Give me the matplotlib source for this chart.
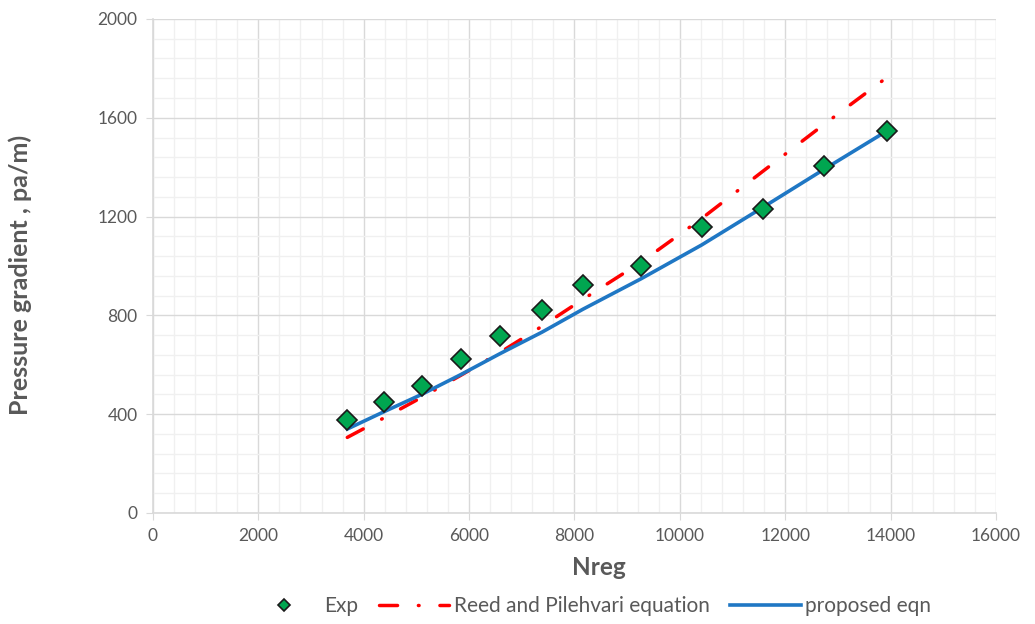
import matplotlib.pyplot as plt
from matplotlib.ticker import MultipleLocator

plt.rcParams['font.family'] = ['Lato', 'DejaVu Sans']

# Data
nreg = [3688, 4384, 5099, 5840, 6586, 7383, 8161, 9262, 10413, 11573, 12741, 13940]
exp_dp = [376, 451, 514, 622, 718, 822, 925, 1000, 1159, 1231, 1405, 1548]
reed_dp = [306, 385, 468, 557, 650, 756, 865, 1015, 1192, 1383, 1574, 1765]
proposed_dp = [340, 410, 480, 560, 645, 732, 825, 948, 1085, 1237, 1392, 1548]

gray = '#595959'
grid_major = '#d9d9d9'
grid_minor = '#f0f0f0'

fig = plt.figure(figsize=(10.35, 6.24), dpi=100)
ax = fig.add_axes([0.1478, 0.1779, 0.8145, 0.7917])

ax.plot(nreg, reed_dp, color='#ff0000', lw=2.5,
        linestyle=(0, (5.2, 6.0, 0.2, 6.0)), dash_capstyle='round',
        label='Reed and Pilehvari equation', zorder=3)
ax.plot(nreg, proposed_dp, color='#1f77c4', lw=2.6, label='proposed eqn', zorder=4)
ax.plot(nreg, exp_dp, linestyle='none', marker='D', markersize=10,
        markerfacecolor='#00a650', markeredgecolor='#1a1a1a', markeredgewidth=1.2,
        label='Exp', zorder=5)

ax.set_xlim(0, 16000)
ax.set_ylim(0, 2000)
ax.xaxis.set_major_locator(MultipleLocator(2000))
ax.xaxis.set_minor_locator(MultipleLocator(400))
ax.yaxis.set_major_locator(MultipleLocator(400))
ax.yaxis.set_minor_locator(MultipleLocator(80))

ax.grid(which='major', color=grid_major, lw=1.0)
ax.grid(which='minor', color=grid_minor, lw=1.0)
ax.set_axisbelow(True)

for s in ['top', 'right']:
    ax.spines[s].set_visible(False)
for s in ['left', 'bottom']:
    ax.spines[s].set_color(grid_major)
    ax.spines[s].set_linewidth(1.2)

ax.tick_params(which='major', length=5, color=grid_major, labelcolor=gray,
               labelsize=12.5, pad=6)
ax.tick_params(which='minor', length=0)

ax.set_xlabel('Nreg', fontsize=17.5, fontweight='bold', color=gray)
ax.xaxis.set_label_coords(0.529, -0.111)
ax.xaxis.label.set_va('center')
ax.set_ylabel('Pressure gradient , pa/m)', fontsize=18, fontweight='bold', color=gray)
ax.yaxis.set_label_coords(-0.158, 0.482)
ax.yaxis.label.set_va('center')

handles, labels = ax.get_legend_handles_labels()
order = [2, 0, 1]
leg = fig.legend([handles[i] for i in order], [labels[i] for i in order],
                 loc='center', bbox_to_anchor=(0.570, 0.029), ncol=3,
                 frameon=False, fontsize=15, handlelength=3.4,
                 columnspacing=1.0, handletextpad=0.2, markerscale=0.6,
                 borderpad=0.2)
for t in leg.get_texts():
    t.set_color(gray)

fig.savefig('out.png', dpi=100)
